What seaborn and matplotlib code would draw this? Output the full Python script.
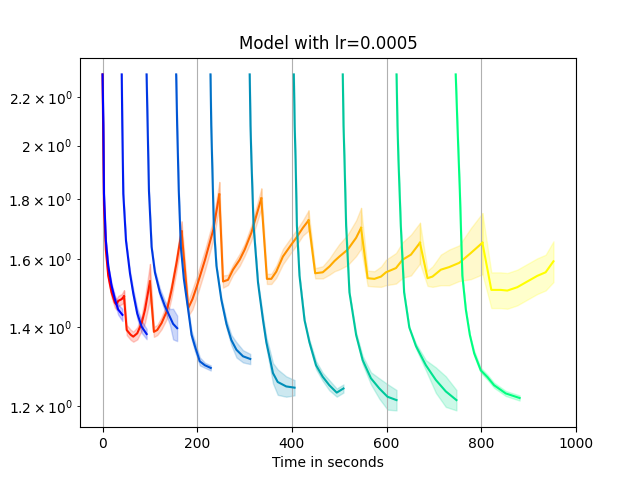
import matplotlib
matplotlib.use("Agg")
import matplotlib.pyplot as plt
from matplotlib import cm
import numpy as np
import pandas as pd
import seaborn as sns

# ---- training-loss curves (blue -> green), one per stage ----
train_x = [
    [0, 1.7, 3, 7, 12, 19, 26, 33, 42],
    [40.5, 41.7, 43.8, 49.5, 57.9, 64.9, 73.3, 82.6, 93.1],
    [93, 95.2, 98, 103.6, 110.6, 121, 131.7, 142, 149, 157.6],
    [155.5, 157.6, 161, 165.4, 171.7, 180.8, 188, 195, 205.4, 216, 228.6],
    [228, 229.6, 231.4, 235, 240.6, 251, 261.7, 272, 282.8, 296.7, 312],
    [310.8, 312.5, 314.4, 319, 328.3, 332, 339, 346, 353, 360, 370, 388, 405.6],
    [404, 405.8, 407.7, 410.5, 416, 426.7, 437, 451, 465, 479, 494.7, 508.9],
    [507.4, 509, 511, 514.5, 521.5, 535.6, 549.5, 567, 584.7, 602, 621],
    [621, 623, 625, 630, 637, 648, 662, 683, 704, 725, 747.6],
    [746, 749.7, 754.7, 760, 767.4, 775.8, 785, 799, 813, 827, 851.7, 881],
]
train_y = [
    [2.30, 2.08, 1.82, 1.66, 1.58, 1.52, 1.48, 1.45, 1.435],
    [2.30, 2.08, 1.82, 1.66, 1.557, 1.497, 1.439, 1.402, 1.382],
    [2.30, 2.08, 1.83, 1.64, 1.56, 1.50, 1.46, 1.43, 1.41, 1.398],
    [2.30, 2.08, 1.83, 1.64, 1.54, 1.45, 1.38, 1.35, 1.31, 1.30, 1.293],
    [2.30, 2.08, 1.947, 1.71, 1.58, 1.478, 1.41, 1.366, 1.34, 1.323, 1.316],
    [2.30, 2.08, 1.947, 1.71, 1.53, 1.49, 1.42, 1.36, 1.32, 1.28, 1.258, 1.247, 1.244],
    [2.30, 2.08, 1.947, 1.71, 1.55, 1.42, 1.36, 1.30, 1.271, 1.25, 1.232, 1.242],
    [2.30, 2.08, 1.947, 1.71, 1.50, 1.38, 1.313, 1.267, 1.242, 1.222, 1.214],
    [2.30, 2.08, 1.947, 1.71, 1.50, 1.40, 1.35, 1.30, 1.263, 1.235, 1.214],
    [2.30, 2.08, 1.83, 1.55, 1.45, 1.38, 1.331, 1.287, 1.27, 1.25, 1.23, 1.219],
]
train_band = [
    [0, 0, 0, 0, 0, 0.005, 0.008, 0.01, 0.012],
    [0, 0, 0, 0, 0.005, 0.008, 0.01, 0.012, 0.01],
    [0, 0, 0, 0, 0.005, 0.008, 0.01, 0.015, 0.03, 0.025],
    [0, 0, 0, 0, 0, 0.005, 0.008, 0.01, 0.008, 0.005, 0.005],
    [0, 0, 0, 0, 0, 0.005, 0.008, 0.01, 0.015, 0.012, 0.01],
    [0, 0, 0, 0, 0, 0.005, 0.008, 0.01, 0.015, 0.02, 0.025, 0.02, 0.015],
    [0, 0, 0, 0, 0, 0, 0.005, 0.008, 0.008, 0.01, 0.008, 0.008],
    [0, 0, 0, 0, 0, 0.005, 0.008, 0.012, 0.02, 0.025, 0.02],
    [0, 0, 0, 0, 0, 0, 0.005, 0.01, 0.025, 0.03, 0.02],
    [0, 0, 0, 0, 0, 0, 0.005, 0.005, 0.005, 0.005, 0.005, 0.005],
]

# ---- evaluation-loss sawtooth (red -> yellow), one segment per stage ----
eval_x = [
    [0, 3, 7, 12, 19, 26, 29, 33.3, 40.5, 45.3],
    [51, 59.4, 64.9, 73.3, 82.6, 89.6, 100.1],
    [108.5, 115.5, 124.7, 135.3, 145.8, 156.3, 167],
    [181, 190, 199, 216.5, 234, 246.6],
    [254.5, 265, 275.6, 289.7, 300.3, 314.4, 335.4],
    [347.2, 356.5, 367, 381, 398.7, 409.2, 423.1, 435.1],
    [449.2, 465.2, 479.4, 490, 500.4, 517.9, 535.6, 546.1],
    [560, 574.2, 588.3, 598.8, 619.9, 633.8, 651.5, 670.5],
    [686.5, 697, 714.7, 732.2, 753.3, 777.9, 802.4],
    [821.3, 841.1, 855, 876.1, 897.2, 918.2, 936, 952.5],
]
eval_y = [
    [2.30, 1.78, 1.63, 1.55, 1.50, 1.47, 1.465, 1.475, 1.480, 1.488],
    [1.393, 1.380, 1.375, 1.384, 1.412, 1.449, 1.532],
    [1.388, 1.393, 1.412, 1.444, 1.507, 1.589, 1.69],
    [1.454, 1.48, 1.517, 1.599, 1.696, 1.817],
    [1.532, 1.537, 1.568, 1.599, 1.631, 1.686, 1.803],
    [1.540, 1.540, 1.562, 1.609, 1.647, 1.669, 1.702, 1.727],
    [1.557, 1.560, 1.578, 1.595, 1.609, 1.631, 1.669, 1.702],
    [1.542, 1.540, 1.547, 1.560, 1.573, 1.599, 1.615, 1.653],
    [1.542, 1.547, 1.568, 1.576, 1.589, 1.620, 1.653],
    [1.507, 1.507, 1.505, 1.515, 1.532, 1.549, 1.560, 1.594],
]
eval_band = [
    [0, 0.01, 0.01, 0.01, 0.01, 0.01, 0.01, 0.01, 0.01, 0.012],
    [0.01, 0.01, 0.01, 0.012, 0.015, 0.025, 0.035],
    [0.01, 0.01, 0.012, 0.015, 0.015, 0.015, 0.02],
    [0.015, 0.02, 0.02, 0.02, 0.02, 0.025],
    [0.012, 0.01, 0.01, 0.012, 0.012, 0.015, 0.02],
    [0.01, 0.01, 0.012, 0.015, 0.015, 0.015, 0.015, 0.02],
    [0.01, 0.012, 0.016, 0.02, 0.025, 0.03, 0.035, 0.04],
    [0.015, 0.015, 0.02, 0.025, 0.03, 0.035, 0.04, 0.04],
    [0.015, 0.02, 0.03, 0.035, 0.035, 0.05, 0.06],
    [0.035, 0.035, 0.035, 0.035, 0.035, 0.035, 0.035, 0.04],
]

title = "Model with lr=0.0005"
xlabel = "Time in seconds"


def long_table(xs, ys, bands, prefix, chain=False):
    rows = []
    prev = None
    for i, (cx, cy, cb) in enumerate(zip(xs, ys, bands)):
        pts = list(zip(cx, cy, cb))
        if chain and prev is not None:
            pts = [prev] + pts
        for x, y, d in pts:
            for v in (y * (1 - d), y, y * (1 + d)):
                rows.append({"curve": f"{prefix}{i}", "x": x, "loss": v})
        prev = pts[-1]
    return pd.DataFrame(rows)


train_df = long_table(train_x, train_y, train_band, "train")
eval_df = long_table(eval_x, eval_y, eval_band, "eval", chain=True)

n = len(train_x)
train_pal = {f"train{i}": cm.winter(i / (n - 1)) for i in range(n)}
eval_pal = {f"eval{i}": cm.autumn(i / (n - 1)) for i in range(n)}

fig, ax = plt.subplots(figsize=(6.4, 4.8), dpi=100)
ax.set_yscale("log")
band = lambda s: (s.min(), s.max())
sns.lineplot(data=eval_df, x="x", y="loss", hue="curve", palette=eval_pal,
             estimator="median", errorbar=band, legend=False, ax=ax)
sns.lineplot(data=train_df, x="x", y="loss", hue="curve", palette=train_pal,
             estimator="median", errorbar=band, legend=False, ax=ax)

ax.grid(axis="x")
ax.set_title(title)
ax.set_xlabel(xlabel)
ax.set_ylabel("")
fig.savefig("out.png", dpi=100)
